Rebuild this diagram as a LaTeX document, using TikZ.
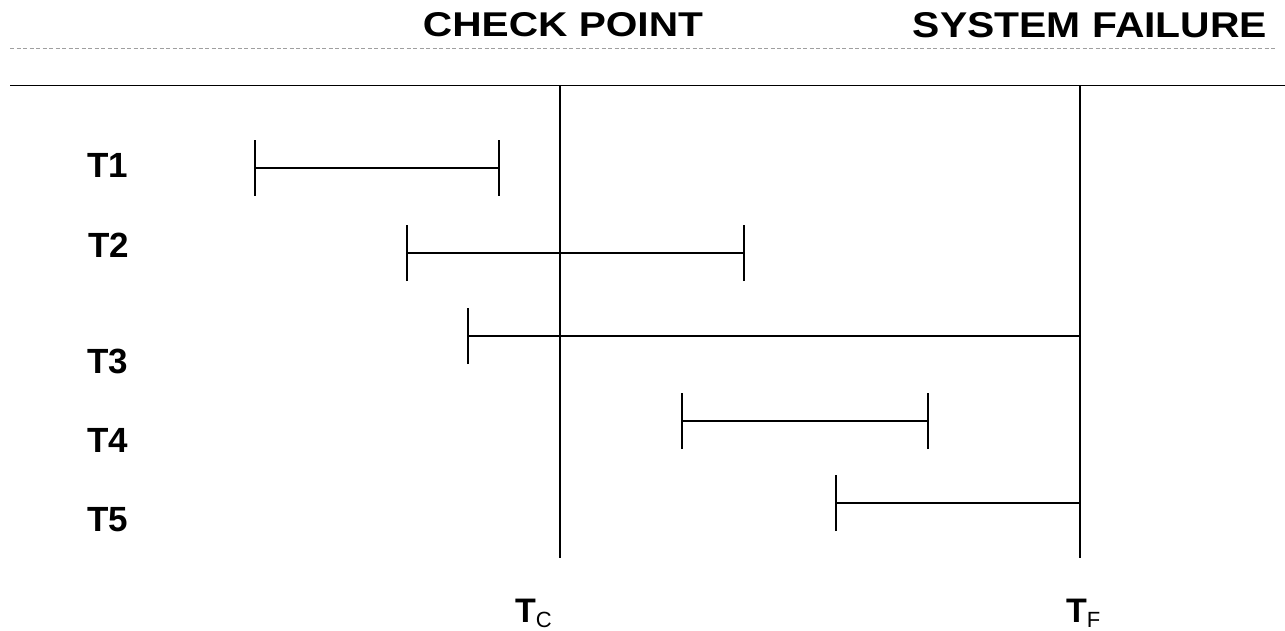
\documentclass[tikz,border=0pt]{standalone}
\usepackage{fontspec}
\setmainfont{Liberation Sans}
\usepackage{graphicx}
\tikzset{
  ln/.style={line width=1.8pt, black},
  lbl/.style={font=\fontsize{35}{40}\selectfont\bfseries, inner sep=0pt, anchor=center},
  tick/.style={ln},
}
\begin{document}
\begin{tikzpicture}[x=1pt,y=-1pt]
\useasboundingbox (0,0) rectangle (1285,631);
% selection dashed line
\draw[gray!75, line width=1pt, dash pattern=on 4pt off 2.5pt] (10,49) -- (1276,49);
% headings
\node[inner sep=0pt] (cp) at (563,25) {\resizebox{280pt}{24pt}{\bfseries CHECK POINT}};
\node[inner sep=0pt] (sf) at (1090,25.5) {\resizebox{354pt}{25pt}{\bfseries SYSTEM FAILURE}};
% top axis
\coordinate (axL) at (10,85.5);
\coordinate (axR) at (1285,85.5);
\draw[ln] (axL) -- (axR);
% vertical lines
\coordinate (tcTop) at (560,85.5);
\coordinate (tcBot) at (560,558);
\coordinate (tfTop) at (1080,85.5);
\coordinate (tfBot) at (1080,558);
\draw[ln] (tcTop) -- (tcBot);
\draw[ln] (tfTop) -- (tfBot);
% labels
\node[lbl] (l1) at (108,165.5) {T1};
\node[lbl] (l2) at (109,245) {T2};
\node[lbl] (l3) at (108,361) {T3};
\node[lbl] (l4) at (108,440) {T4};
\node[lbl] (l5) at (108,520) {T5};
% transactions
\coordinate (a1) at (255,168); \coordinate (b1) at (499,168);
\draw[ln] (a1) -- (b1);
\draw[tick] ([yshift=-28pt]a1) -- ([yshift=28pt]a1);
\draw[tick] ([yshift=-28pt]b1) -- ([yshift=28pt]b1);
\coordinate (a2) at (407,253); \coordinate (b2) at (744,253);
\draw[ln] (a2) -- (b2);
\draw[tick] ([yshift=-28pt]a2) -- ([yshift=28pt]a2);
\draw[tick] ([yshift=-28pt]b2) -- ([yshift=28pt]b2);
\coordinate (a3) at (468,336); \coordinate (b3) at (1080,336);
\draw[ln] (a3) -- (b3);
\draw[tick] ([yshift=-28pt]a3) -- ([yshift=28pt]a3);
\coordinate (a4) at (682,421); \coordinate (b4) at (928,421);
\draw[ln] (a4) -- (b4);
\draw[tick] ([yshift=-28pt]a4) -- ([yshift=28pt]a4);
\draw[tick] ([yshift=-28pt]b4) -- ([yshift=28pt]b4);
\coordinate (a5) at (836,503); \coordinate (b5) at (1080,503);
\draw[ln] (a5) -- (b5);
\draw[tick] ([yshift=-28pt]a5) -- ([yshift=28pt]a5);
% bottom labels
\node[inner sep=0pt, anchor=base west] (tc) at (515,622) {\fontsize{34}{38}\selectfont\bfseries T\raisebox{-5pt}{\fontsize{22}{24}\selectfont\mdseries C}};
\node[inner sep=0pt, anchor=base west] (tf) at (1066,622) {\fontsize{34}{38}\selectfont\bfseries T\raisebox{-5pt}{\fontsize{22}{24}\selectfont\mdseries F}};
\end{tikzpicture}
\end{document}
